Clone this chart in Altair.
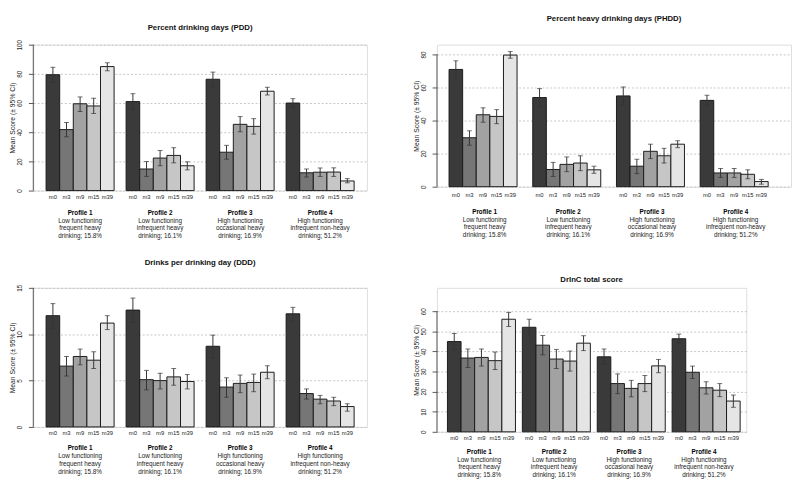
import altair as alt
import pandas as pd

times = ["m0", "m3", "m9", "m15", "m39"]
profiles = ["Profile 1", "Profile 2", "Profile 3", "Profile 4"]
descriptions = [
    "Low functioning\nfrequent heavy\ndrinking; 15.8%",
    "Low functioning\ninfrequent heavy\ndrinking; 16.1%",
    "High functioning\noccasional heavy\ndrinking; 16.9%",
    "High functioning\ninfrequent non-heavy\ndrinking; 51.2%",
]
grays = ["#3a3a3a", "#767676", "#a2a2a2", "#c6c6c6", "#e5e5e5"]

# values ordered Profile 1..4, each m0, m3, m9, m15, m39
pdd_mean = [79.4, 41.8, 59.5, 58.0, 85.0, 61.0, 14.8, 22.3, 24.1, 17.0,
            76.3, 26.3, 45.4, 44.0, 68.1, 60.0, 12.2, 12.6, 12.7, 6.6]
pdd_lo = [74.3, 36.9, 54.2, 52.9, 82.1, 56.0, 9.7, 17.0, 19.0, 14.2,
          71.2, 21.5, 40.3, 38.7, 65.5, 57.0, 9.3, 9.7, 9.7, 5.3]
pdd_hi = [84.5, 46.7, 64.2, 63.3, 87.6, 66.4, 19.9, 27.4, 29.4, 19.7,
          81.2, 31.0, 50.7, 49.3, 70.8, 63.0, 14.8, 15.5, 15.6, 8.2]

phdd_mean = [70.9, 29.6, 43.5, 42.5, 79.6, 53.9, 10.4, 13.5, 14.3, 10.2,
             54.9, 12.4, 21.4, 18.7, 25.7, 52.2, 8.3, 8.3, 7.5, 3.1]
phdd_lo = [65.7, 25.1, 39.0, 38.1, 77.7, 48.5, 6.2, 9.1, 9.7, 8.1,
           49.7, 7.9, 17.0, 14.3, 23.6, 49.1, 5.6, 5.6, 4.8, 1.5]
phdd_hi = [76.1, 33.8, 47.7, 46.6, 81.7, 59.3, 14.7, 18.0, 18.7, 12.4,
           60.3, 16.6, 25.7, 23.2, 27.8, 55.3, 11.0, 11.0, 10.2, 4.4]

ddd_mean = [12.0, 6.56, 7.6, 7.2, 11.2, 12.6, 5.1, 5.0, 5.4, 4.9,
            8.7, 4.3, 4.7, 4.8, 5.9, 12.2, 3.6, 3.0, 2.8, 2.2]
ddd_lo = [10.6, 5.5, 6.7, 6.3, 10.5, 11.3, 4.0, 4.1, 4.5, 4.1,
          7.4, 3.2, 3.7, 3.8, 5.2, 11.4, 3.0, 2.5, 2.3, 1.7]
ddd_hi = [13.3, 7.6, 8.4, 8.1, 12.0, 13.9, 6.1, 5.8, 6.3, 5.65,
          9.9, 5.3, 5.6, 5.7, 6.6, 12.9, 4.1, 3.4, 3.2, 2.5]

drinc_mean = [44.9, 36.7, 37.0, 35.4, 56.0, 52.0, 43.1, 36.2, 35.2, 44.1,
              37.3, 24.0, 21.6, 24.0, 32.8, 46.3, 29.6, 21.9, 20.7, 15.3]
drinc_lo = [40.9, 32.0, 32.7, 31.0, 52.4, 47.8, 38.3, 31.5, 30.2, 40.4,
            33.5, 19.0, 17.4, 20.0, 29.4, 44.1, 26.5, 18.8, 17.5, 12.2]
drinc_hi = [48.9, 41.2, 41.2, 39.7, 59.4, 56.0, 47.9, 41.0, 40.2, 47.8,
            41.2, 28.8, 25.6, 28.0, 36.0, 48.6, 32.7, 24.9, 24.0, 18.3]

pdd_ticks = [0, 20, 40, 60, 80, 100]
phdd_ticks = [0, 20, 40, 60, 80]
ddd_ticks = [0, 5, 10, 15]
drinc_ticks = [0, 10, 20, 30, 40, 50, 60]

FONT = "Liberation Sans"
YTITLE = "Mean Score (± 95% CI)"


def panel(title, mean, lo, hi, ticks, dom_max, width, height, outer, align,
          title_y, m_dy, prof_dy, line_h):
    rows = []
    for i, p in enumerate(profiles):
        for j, t in enumerate(times):
            k = i * 5 + j
            rows.append({"profile": p, "time": t, "mean": mean[k],
                         "lo": lo[k], "hi": hi[k]})
    df = pd.DataFrame(rows)
    lab = pd.DataFrame({"profile": profiles, "desc": descriptions})
    axis_df = pd.DataFrame({"bottom": [ticks[0]], "top": [ticks[-1]]})
    title_df = pd.DataFrame({"t": [title]})

    x = alt.X("profile:N", sort=profiles, axis=None,
              scale=alt.Scale(paddingInner=0.15, paddingOuter=outer, align=align))
    xo = alt.XOffset("time:N", sort=times, scale=alt.Scale(paddingInner=0, paddingOuter=0))
    yaxis = alt.Axis(values=ticks, title=YTITLE, grid=True,
                     gridDash=[2, 2], gridColor="#c4c4c4", gridWidth=1,
                     domain=False, ticks=True, tickSize=5, tickColor="#555555",
                     labelAngle=270, labelAlign="center", labelBaseline="bottom",
                     labelFontSize=6.5, labelPadding=6, labelColor="#222222",
                     labelOverlap=False, labelSeparation=0,
                     titleFontSize=7, titleFontWeight="normal",
                     titlePadding=1, titleColor="#222222")
    yscale = alt.Scale(domain=[0, dom_max], nice=False, zero=True)

    def Y(field):
        return alt.Y(field, scale=yscale, axis=yaxis, title=YTITLE)

    bars = alt.Chart(df).mark_bar(stroke="#1a1a1a", strokeWidth=1).encode(
        x=x, xOffset=xo, y=Y("mean:Q"),
        color=alt.Color("time:N", sort=times,
                        scale=alt.Scale(domain=times, range=grays), legend=None),
    )
    err = alt.Chart(df).mark_rule(color="#333333", strokeWidth=1).encode(
        x=x, xOffset=xo, y=Y("lo:Q"), y2="hi:Q")
    cap_hi = alt.Chart(df).mark_tick(color="#333333", orient="horizontal",
                                     size=5, thickness=1).encode(
        x=x, xOffset=xo, y=Y("hi:Q"))
    cap_lo = alt.Chart(df).mark_tick(color="#333333", orient="horizontal",
                                     size=5, thickness=1).encode(
        x=x, xOffset=xo, y=Y("lo:Q"))
    axis_line = alt.Chart(axis_df).mark_rule(color="#555555", strokeWidth=1).encode(
        x=alt.value(0), y=Y("bottom:Q"), y2="top:Q")
    mlab = alt.Chart(df).mark_text(fontSize=6, font=FONT, color="#222222",
                                   baseline="middle").encode(
        x=x, xOffset=xo, y=alt.value(height + m_dy), text="time:N")
    plab = alt.Chart(lab).mark_text(fontSize=6.5, font=FONT, fontWeight="bold",
                                    color="#000000", baseline="middle").encode(
        x=x, y=alt.value(height + prof_dy), text="profile:N")
    dlab = alt.Chart(lab).mark_text(fontSize=6.5, font=FONT, color="#222222",
                                    baseline="middle", lineBreak="\n",
                                    lineHeight=line_h).encode(
        x=x, y=alt.value(height + prof_dy + line_h), text="desc:N")
    ttl = alt.Chart(title_df).mark_text(fontSize=8, font=FONT, fontWeight="bold",
                                        color="#111111", align="center",
                                        baseline="middle").encode(
        x=alt.value(width / 2), y=alt.value(title_y), text="t:N")

    return alt.layer(bars, err, cap_hi, cap_lo, axis_line, mlab, plab, dlab, ttl).properties(
        width=width, height=height)


pdd = panel("Percent drinking days (PDD)", pdd_mean, pdd_lo, pdd_hi, pdd_ticks,
            100, 343, 150, 0.16, 0.5, -17, 7, 23, 8)
phdd = panel("Percent heavy drinking days (PHDD)", phdd_mean, phdd_lo, phdd_hi,
             phdd_ticks, 80 * 146 / 136, 364, 146, 0.19, 0.38, -26, 9, 26, 8)
ddd = panel("Drinks per drinking day (DDD)", ddd_mean, ddd_lo, ddd_hi, ddd_ticks,
            15, 343, 143, 0.16, 0.5, -25, 6, 22, 8)
drinc = panel("DrInC total score", drinc_mean, drinc_lo, drinc_hi, drinc_ticks,
              60 * 148 / 124, 318, 148, 0.14, 0.5, -8, 6, 21, 7.7)

chart = alt.concat(pdd, phdd, ddd, drinc, columns=2,
                   spacing={"row": 100, "column": 51}).properties(
    bounds="flush", align="all",
    padding={"left": 0, "top": 0, "right": 0, "bottom": 0},
).configure_view(stroke=None).configure(
    background="white", padding={"left": 0, "top": 0, "right": 0, "bottom": 0}
).configure_axis(labelOverlap=False)

chart.save("out.html", embed_options={"renderer": "svg", "actions": False})
